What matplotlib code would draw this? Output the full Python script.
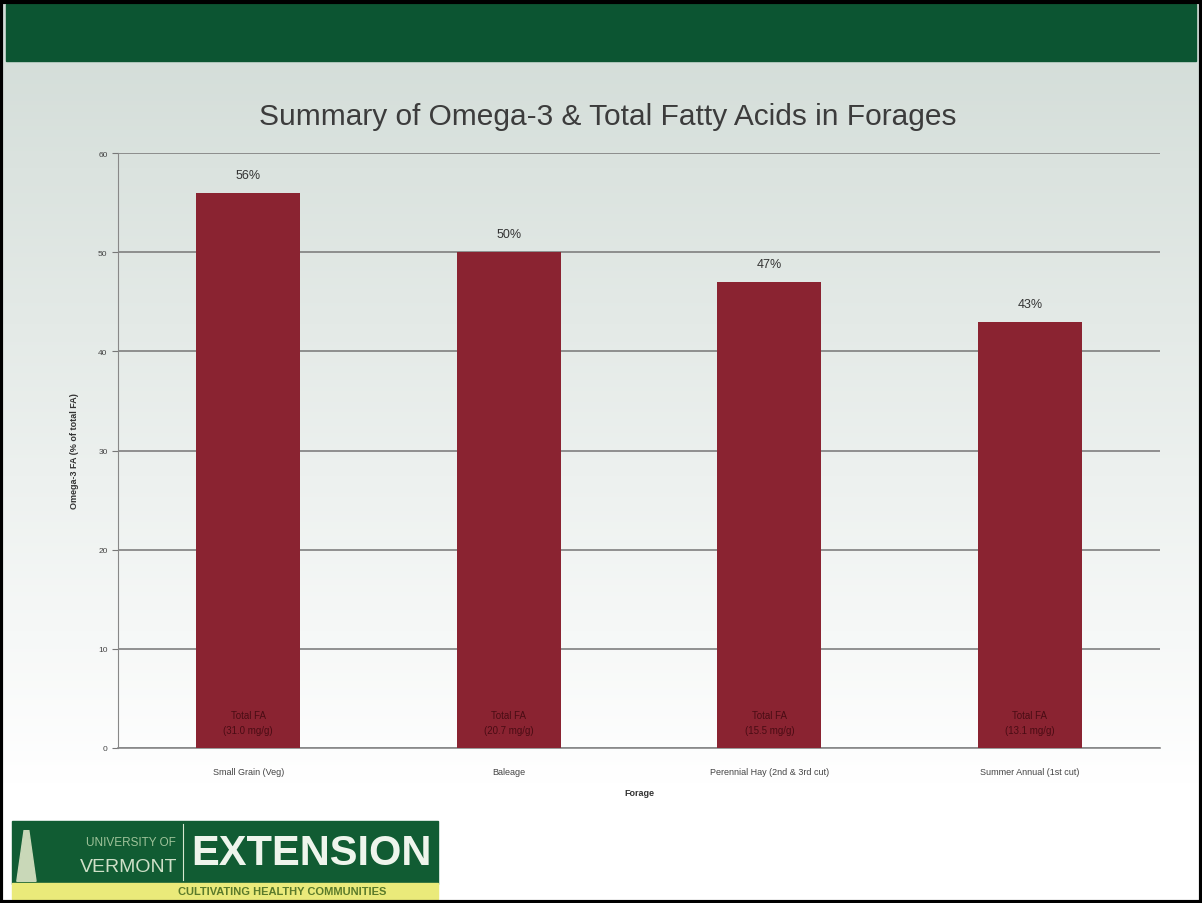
import numpy as np
import matplotlib.pyplot as plt
from matplotlib.patches import Rectangle, Polygon

# forage data
forages = ["Small Grain (Veg)", "Baleage", "Perennial Hay (2nd & 3rd cut)", "Summer Annual (1st cut)"]
omega3_pct = [56, 50, 47, 43]
total_fa = ["31.0", "20.7", "15.5", "13.1"]
yticks = [0, 10, 20, 30, 40, 50, 60]

plt.rcParams['font.family'] = ['Liberation Sans', 'DejaVu Sans']

fig = plt.figure(figsize=(12.02, 9.04), dpi=100)

# slide background: grey-green fading to white
bg = fig.add_axes([0, 0, 1, 1], zorder=-2)
grad = np.linspace(0, 1, 256).reshape(-1, 1)
top_c = np.array([0.82, 0.86, 0.84])
bot_c = np.array([1.0, 1.0, 1.0])
img = top_c + (bot_c - top_c) * np.clip(grad * 1.15, 0, 1)[..., None]
bg.imshow(img, aspect='auto', extent=[0, 1, 0, 1], origin='upper')
bg.set_xlim(0, 1); bg.set_ylim(0, 1)
bg.axis('off')

# green header band
bg.add_patch(Rectangle((0.005, 0.931), 0.99, 0.064, color='#0c5532', zorder=2))
# black frame
bg.add_patch(Rectangle((0.001, 0.001), 0.998, 0.996, fill=False, ec='black', lw=3, zorder=3))

# logo block
bg.add_patch(Rectangle((0.010, 0.021), 0.354, 0.070, color='#115c33', zorder=2))
bg.add_patch(Rectangle((0.010, 0.004), 0.354, 0.018, color='#eaea7a', zorder=2))
bg.add_patch(Polygon([(0.014, 0.024), (0.030, 0.024), (0.024, 0.080), (0.020, 0.080)],
                     color='#c9d8b8', zorder=3))
bg.plot([0.152, 0.152], [0.025, 0.087], color='#d8e8d0', lw=0.8, zorder=3)
bg.text(0.146, 0.068, "UNIVERSITY OF", color='#9fc39a', fontsize=8.5, ha='right', va='center', zorder=4)
bg.text(0.148, 0.040, "VERMONT", color='#cfe0c8', fontsize=14, ha='right', va='center', zorder=4)
bg.text(0.259, 0.055, "EXTENSION", color='#eef5ec', fontsize=30, fontweight='bold',
        ha='center', va='center', zorder=4)
bg.text(0.235, 0.013, "CULTIVATING HEALTHY COMMUNITIES", color='#5a7a2a', fontsize=8,
        fontweight='bold', ha='center', va='center', zorder=4)

fig.text(0.506, 0.871, "Summary of Omega-3 & Total Fatty Acids in Forages",
         ha='center', va='center', fontsize=21.5, color='#3c3c3c')

ax = fig.add_axes([0.0982, 0.1715, 0.867, 0.658])
ax.set_facecolor('none')
x = np.arange(len(forages))
bars = ax.bar(x, omega3_pct, width=0.4, color='#8a2331', zorder=3)
ax.set_xlim(-0.5, len(forages) - 0.5)
ax.set_ylim(0, 60)
ax.set_yticks(yticks)
ax.yaxis.grid(True, color='#7f7f7f', lw=1.2, zorder=0)
ax.tick_params(axis='y', length=4, labelsize=6, color='#777777', labelcolor='#444444')
ax.tick_params(axis='x', length=0, labelsize=6.5, labelcolor='#444444', pad=14)
ax.set_xticks(x)
ax.set_xticklabels(forages)
for s in ['top', 'right']:
    ax.spines[s].set_visible(False)
ax.spines['left'].set_color('#888888')
ax.spines['bottom'].set_color('#888888')
ax.spines['bottom'].set_linewidth(1.2)

for xi, v, fa in zip(x, omega3_pct, total_fa):
    ax.text(xi, v + 1.2, f"{v}%", ha='center', va='bottom', fontsize=9, color='#333333')
    ax.text(xi, 2.6, f"Total FA\n({fa} mg/g)", ha='center', va='center', fontsize=7,
            color='#4a0c14', linespacing=1.6, zorder=4)

ax.set_ylabel("Omega-3 FA (% of total FA)", fontsize=6.5, fontweight='bold', color='#333333', labelpad=14)
ax.set_xlabel("Forage", fontsize=6.5, fontweight='bold', color='#333333', labelpad=8)

fig.savefig("out.png", dpi=100)
